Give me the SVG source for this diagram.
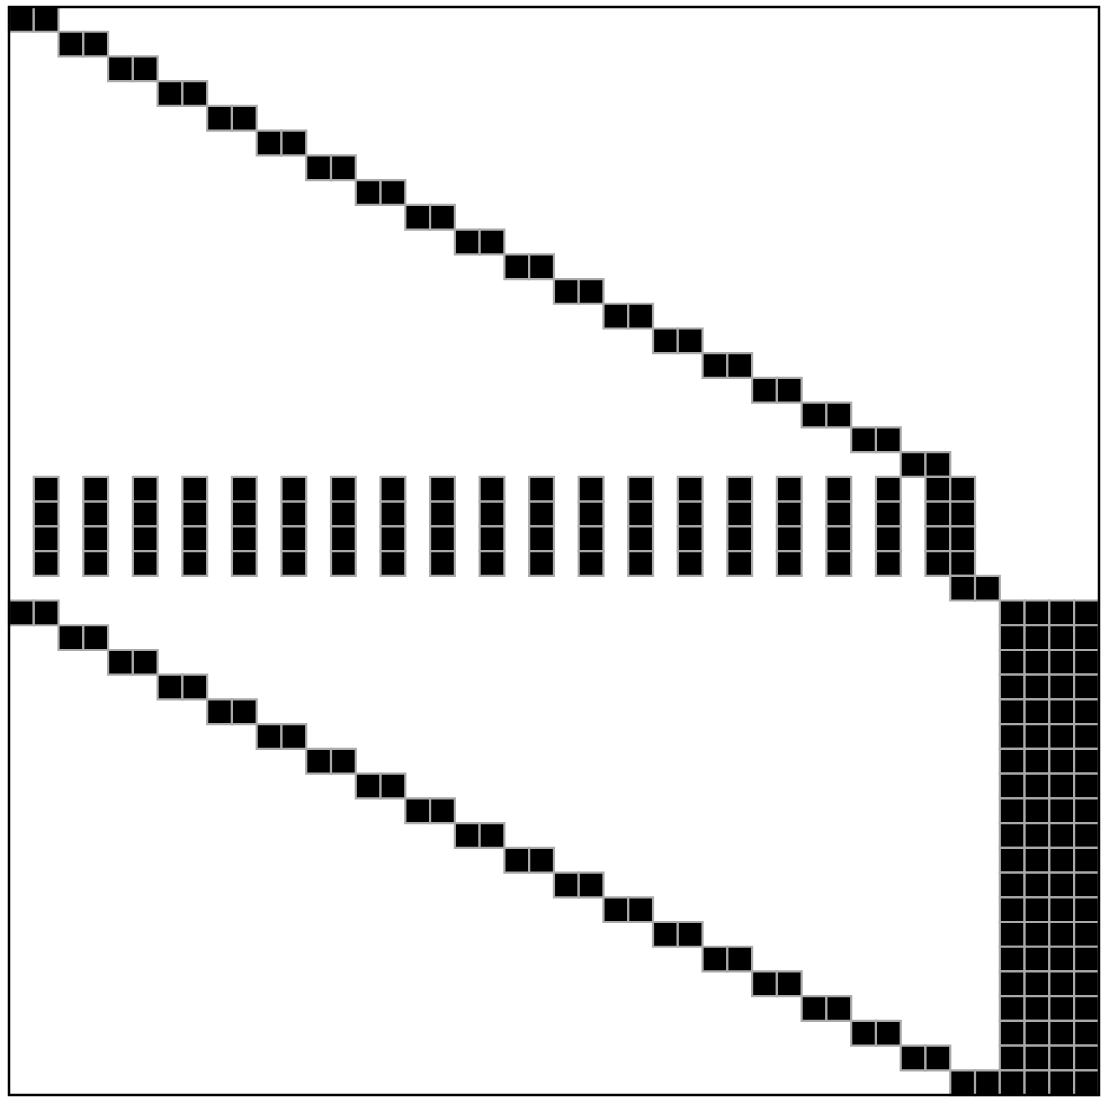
<svg xmlns="http://www.w3.org/2000/svg" xmlns:xlink="http://www.w3.org/1999/xlink" width="1104" height="1105" viewBox="0 0 1104 1105">
<style>
.c{fill:#000;stroke:#aaaaaa;stroke-width:2.2}
.frame{fill:none;stroke:#000;stroke-width:2.5}
</style>
<defs>
<rect id="c" class="c" x="0" y="0" width="1" height="1" vector-effect="non-scaling-stroke"/>
</defs>
<rect x="0" y="0" width="1104" height="1105" fill="#fff"/>
<g id="cells" transform="translate(9,7) scale(24.77,24.73)">
<g id="upper-diagonal">
<use href="#c" x="0" y="0"/><use href="#c" x="1" y="0"/>
<use href="#c" x="2" y="1"/><use href="#c" x="3" y="1"/>
<use href="#c" x="4" y="2"/><use href="#c" x="5" y="2"/>
<use href="#c" x="6" y="3"/><use href="#c" x="7" y="3"/>
<use href="#c" x="8" y="4"/><use href="#c" x="9" y="4"/>
<use href="#c" x="10" y="5"/><use href="#c" x="11" y="5"/>
<use href="#c" x="12" y="6"/><use href="#c" x="13" y="6"/>
<use href="#c" x="14" y="7"/><use href="#c" x="15" y="7"/>
<use href="#c" x="16" y="8"/><use href="#c" x="17" y="8"/>
<use href="#c" x="18" y="9"/><use href="#c" x="19" y="9"/>
<use href="#c" x="20" y="10"/><use href="#c" x="21" y="10"/>
<use href="#c" x="22" y="11"/><use href="#c" x="23" y="11"/>
<use href="#c" x="24" y="12"/><use href="#c" x="25" y="12"/>
<use href="#c" x="26" y="13"/><use href="#c" x="27" y="13"/>
<use href="#c" x="28" y="14"/><use href="#c" x="29" y="14"/>
<use href="#c" x="30" y="15"/><use href="#c" x="31" y="15"/>
<use href="#c" x="32" y="16"/><use href="#c" x="33" y="16"/>
<use href="#c" x="34" y="17"/><use href="#c" x="35" y="17"/>
<use href="#c" x="36" y="18"/><use href="#c" x="37" y="18"/>
</g>
<g id="middle-rows">
<g id="row19">
<use href="#c" x="1" y="19"/><use href="#c" x="3" y="19"/><use href="#c" x="5" y="19"/><use href="#c" x="7" y="19"/><use href="#c" x="9" y="19"/><use href="#c" x="11" y="19"/><use href="#c" x="13" y="19"/><use href="#c" x="15" y="19"/><use href="#c" x="17" y="19"/><use href="#c" x="19" y="19"/><use href="#c" x="21" y="19"/><use href="#c" x="23" y="19"/><use href="#c" x="25" y="19"/><use href="#c" x="27" y="19"/><use href="#c" x="29" y="19"/><use href="#c" x="31" y="19"/><use href="#c" x="33" y="19"/><use href="#c" x="35" y="19"/><use href="#c" x="37" y="19"/><use href="#c" x="38" y="19"/>
</g>
<use href="#row19" y="1"/>
<use href="#row19" y="2"/>
<use href="#row19" y="3"/>
<use href="#c" x="38" y="23"/><use href="#c" x="39" y="23"/>
</g>
<g id="lower-diagonal">
<use href="#c" x="0" y="24"/><use href="#c" x="1" y="24"/>
<use href="#c" x="2" y="25"/><use href="#c" x="3" y="25"/>
<use href="#c" x="4" y="26"/><use href="#c" x="5" y="26"/>
<use href="#c" x="6" y="27"/><use href="#c" x="7" y="27"/>
<use href="#c" x="8" y="28"/><use href="#c" x="9" y="28"/>
<use href="#c" x="10" y="29"/><use href="#c" x="11" y="29"/>
<use href="#c" x="12" y="30"/><use href="#c" x="13" y="30"/>
<use href="#c" x="14" y="31"/><use href="#c" x="15" y="31"/>
<use href="#c" x="16" y="32"/><use href="#c" x="17" y="32"/>
<use href="#c" x="18" y="33"/><use href="#c" x="19" y="33"/>
<use href="#c" x="20" y="34"/><use href="#c" x="21" y="34"/>
<use href="#c" x="22" y="35"/><use href="#c" x="23" y="35"/>
<use href="#c" x="24" y="36"/><use href="#c" x="25" y="36"/>
<use href="#c" x="26" y="37"/><use href="#c" x="27" y="37"/>
<use href="#c" x="28" y="38"/><use href="#c" x="29" y="38"/>
<use href="#c" x="30" y="39"/><use href="#c" x="31" y="39"/>
<use href="#c" x="32" y="40"/><use href="#c" x="33" y="40"/>
<use href="#c" x="34" y="41"/><use href="#c" x="35" y="41"/>
<use href="#c" x="36" y="42"/><use href="#c" x="37" y="42"/>
<use href="#c" x="38" y="43"/><use href="#c" x="39" y="43"/>
</g>
<g id="dense-block">
<g id="drow">
<use href="#c" x="40" y="24"/><use href="#c" x="41" y="24"/><use href="#c" x="42" y="24"/><use href="#c" x="43" y="24"/>
</g>
<use href="#drow" y="1"/><use href="#drow" y="2"/><use href="#drow" y="3"/><use href="#drow" y="4"/>
<use href="#drow" y="5"/><use href="#drow" y="6"/><use href="#drow" y="7"/><use href="#drow" y="8"/>
<use href="#drow" y="9"/><use href="#drow" y="10"/><use href="#drow" y="11"/><use href="#drow" y="12"/>
<use href="#drow" y="13"/><use href="#drow" y="14"/><use href="#drow" y="15"/><use href="#drow" y="16"/>
<use href="#drow" y="17"/><use href="#drow" y="18"/><use href="#drow" y="19"/>
</g>
</g>
<rect class="frame" x="9" y="7" width="1090" height="1088"/>
</svg>
